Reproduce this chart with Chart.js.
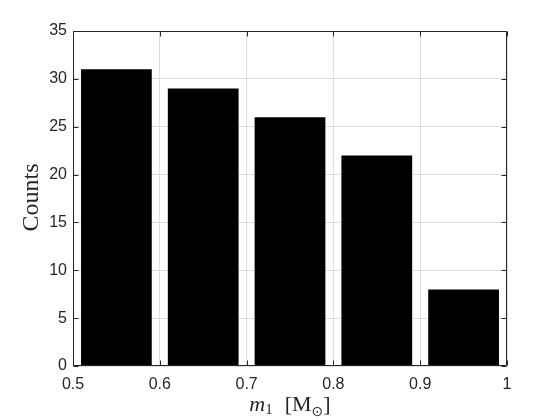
<!DOCTYPE html>
<html>
<head>
<meta charset="utf-8">
<script src="https://cdn.jsdelivr.net/npm/chart.js@4.4.1/dist/chart.umd.min.js"></script>
<style>
html,body{margin:0;padding:0;background:#fff;}
#wrap{width:560px;height:420px;position:relative;}
</style>
</head>
<body>
<div id="wrap"><canvas id="c" width="560" height="420"></canvas></div>
<script>
const binCenters = [0.55, 0.65, 0.75, 0.85, 0.95];
const counts = [31, 29, 26, 22, 8];
const xTicks = [0.5, 0.6, 0.7, 0.8, 0.9, 1.0];
const yTicks = [0, 5, 10, 15, 20, 25, 30, 35];
const yTitle = 'Counts';

const AX = '#262626';
const SERIF = '"Liberation Serif"';

const framePlugin = {
  id: 'frame',
  afterDraw(chart) {
    const ctx = chart.ctx;
    const a = chart.chartArea;
    const xs = chart.scales.x, ys = chart.scales.y;
    const L = Math.round(a.left) + 0.5, R = Math.round(a.right) - 0.5;
    const T = Math.round(a.top) + 0.5, B = Math.round(a.bottom) - 0.5;
    ctx.save();
    ctx.strokeStyle = AX;
    ctx.lineWidth = 1;
    ctx.beginPath();
    ctx.rect(L, T, R - L, B - T);
    ctx.stroke();
    const tl = 5;
    ctx.beginPath();
    xTicks.forEach(v => {
      const px = Math.round(xs.getPixelForValue(v)) + 0.5;
      ctx.moveTo(px, B); ctx.lineTo(px, B - tl);
      ctx.moveTo(px, T); ctx.lineTo(px, T + tl);
    });
    yTicks.forEach(v => {
      const py = Math.round(ys.getPixelForValue(v)) + 0.5;
      ctx.moveTo(L, py); ctx.lineTo(L + tl, py);
      ctx.moveTo(R, py); ctx.lineTo(R - tl, py);
    });
    ctx.stroke();

    // y title
    ctx.fillStyle = AX;
    ctx.font = '24px ' + SERIF;
    ctx.textAlign = 'center';
    ctx.textBaseline = 'alphabetic';
    ctx.save();
    ctx.translate(38, (a.top + a.bottom) / 2 - 1);
    ctx.rotate(-Math.PI / 2);
    ctx.fillText(yTitle, 0, 0);
    ctx.restore();

    // x title: m_1 [M_sun]
    const parts = [
      {t: 'm', f: 'italic 22px ' + SERIF, dy: 0, gap: 0},
      {t: '1', f: '15px ' + SERIF, dy: 3, gap: 12},
      {t: '[M', f: '22px ' + SERIF, dy: 0, gap: 0},
      {t: '\u2299', f: '14px "DejaVu Sans"', dy: 5, gap: 0},
      {t: ']', f: '22px ' + SERIF, dy: 0, gap: 0}
    ];
    let w = 0;
    parts.forEach(p => { ctx.font = p.f; p.w = ctx.measureText(p.t).width; w += p.w + p.gap; });
    let x = (a.left + a.right) / 2 - w / 2;
    const base = 411;
    ctx.textAlign = 'left';
    parts.forEach(p => { ctx.font = p.f; ctx.fillText(p.t, x, base + p.dy); x += p.w + p.gap; });
    ctx.restore();
  }
};

new Chart(document.getElementById('c'), {
  type: 'bar',
  data: {
    datasets: [{
      data: binCenters.map((x, i) => ({x: x, y: counts[i]})),
      backgroundColor: '#000000',
      borderWidth: 0,
      barPercentage: 0.815,
      categoryPercentage: 1.0
    }]
  },
  options: {
    responsive: false,
    animation: false,
    devicePixelRatio: 1,
    layout: {padding: {top: 31, right: 53, left: 0, bottom: 0}},
    plugins: {legend: {display: false}, tooltip: {enabled: false}},
    scales: {
      x: {
        type: 'linear',
        min: 0.5, max: 1.0,
        offset: false,
        grid: {color: '#dedede', drawTicks: false, offset: false},
        border: {display: false},
        afterBuildTicks: s => { s.ticks = xTicks.map(v => ({value: v})); },
        afterFit: s => { s.height = 54; },
        ticks: {
          padding: 9,
          color: AX,
          font: {family: '"Liberation Sans"', size: 16},
          maxRotation: 0,
          callback: v => String(+Number(v).toFixed(1))
        }
      },
      y: {
        min: 0, max: 35,
        grid: {color: '#dedede', drawTicks: false},
        border: {display: false},
        afterBuildTicks: s => { s.ticks = yTicks.map(v => ({value: v})); },
        afterFit: s => { s.width = 73; },
        ticks: {
          padding: 6,
          color: AX,
          font: {family: '"Liberation Sans"', size: 16}
        }
      }
    }
  },
  plugins: [framePlugin]
});
</script>
</body>
</html>
